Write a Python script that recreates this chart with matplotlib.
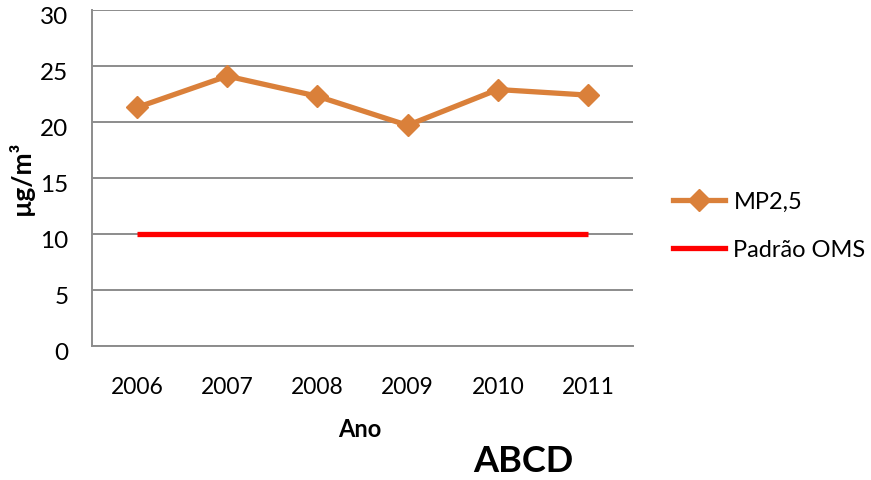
import matplotlib
matplotlib.use("Agg")
import matplotlib.pyplot as plt
from matplotlib.lines import Line2D
from matplotlib.transforms import ScaledTranslation

years = ["2006", "2007", "2008", "2009", "2010", "2011"]
mp25 = [21.3, 24.1, 22.3, 19.7, 22.9, 22.4]
padrao_oms = [10, 10, 10, 10, 10, 10]
yticks = [0, 5, 10, 15, 20, 25, 30]

plt.rcParams['font.family'] = ['Lato', 'DejaVu Sans']

fig = plt.figure(figsize=(8.71, 4.80), dpi=100)
ax = fig.add_axes([92/871, 1 - 346/480, (633-92)/871, (346-10)/480])

orange = '#DA803A'
red = '#FF0000'
x = list(range(len(years)))

ax.plot(x, padrao_oms, color=red, lw=3.8, solid_capstyle='butt', zorder=3)
ax.plot(x, mp25, color=orange, lw=3.8, marker='D', markersize=11, zorder=4)

ax.set_xlim(-0.5, len(years) - 0.5)
ax.set_ylim(0, 30)
ax.set_yticks(yticks)
ax.set_xticks(x)
ax.set_xticklabels(years)
ax.tick_params(axis='both', length=0, labelsize=16.5, colors='black')
ax.tick_params(axis='y', labelsize=17.5, pad=17)
ax.tick_params(axis='x', pad=22)
ax.grid(axis='y', color='#8C8C8C', lw=1.4)
ax.set_axisbelow(True)
for s in ['top', 'right']:
    ax.spines[s].set_visible(False)
for s in ['left', 'bottom']:
    ax.spines[s].set_color('#8C8C8C')
    ax.spines[s].set_linewidth(1.4)

offset = ScaledTranslation(0, -5/100, fig.dpi_scale_trans)
for lab in ax.get_yticklabels():
    lab.set_transform(lab.get_transform() + offset)

ax.set_ylabel('µg/m³', fontsize=19, fontweight='bold')
ax.yaxis.set_label_coords(-0.107, 0.5)
ax.set_xlabel('Ano', fontsize=17, fontweight='bold')
ax.xaxis.set_label_coords(0.495, -0.215)

fig.text(523/871, 1 - 462/480, 'ABCD', fontsize=26, fontweight='bold',
         ha='center', va='center')

handles = [Line2D([], [], color=orange, lw=3.8, marker='D', markersize=11.5),
           Line2D([], [], color=red, lw=3.8)]
fig.legend(handles, ['MP2,5', 'Padrão OMS'], loc='center left',
           bbox_to_anchor=(652/871, 1 - 226/480), frameon=False, fontsize=17,
           handlelength=2.2, handletextpad=0.35, labelspacing=1.15)

fig.savefig('out.png', dpi=100)
